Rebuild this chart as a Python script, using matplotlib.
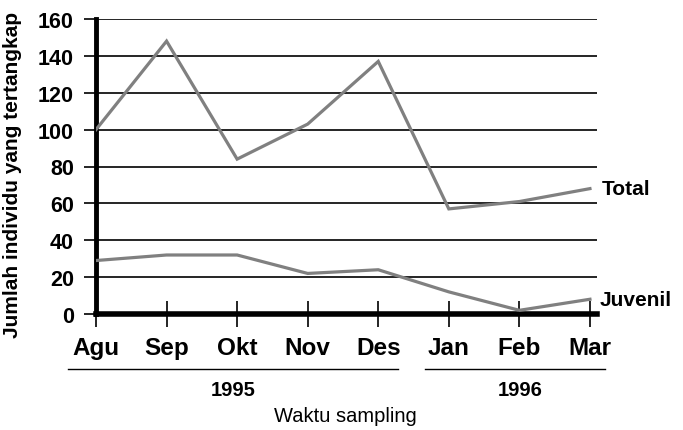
import matplotlib
matplotlib.use("Agg")
import matplotlib.pyplot as plt

months = ["Agu", "Sep", "Okt", "Nov", "Des", "Jan", "Feb", "Mar"]
total = [100, 148, 84, 103, 137, 57, 61, 68]
juvenil = [29, 32, 32, 22, 24, 12, 2, 8]
yticks = [0, 20, 40, 60, 80, 100, 120, 140, 160]
years = ["1995", "1996"]

plt.rcParams['font.family'] = ['Liberation Sans', 'DejaVu Sans']

fig = plt.figure(figsize=(6.83, 4.31), dpi=100)
ax = fig.add_axes([96/683, 1-315/431, 501/683, 295/431])

x = list(range(len(months)))
ax.plot(x, total, color='#808080', lw=2.3, solid_joinstyle='miter', zorder=3)
ax.plot(x, juvenil, color='#808080', lw=2.3, solid_joinstyle='miter', zorder=3)

ax.set_xlim(0, 7.1)
ax.set_ylim(0, 160)
ax.set_yticks(yticks)
ax.set_yticklabels([str(v) for v in yticks], fontsize=15.5, fontweight='bold')
ax.set_xticks(x)
ax.set_xticklabels(months, fontsize=17.5, fontweight='bold')
for yv in yticks[1:]:
    ax.axhline(yv, color='black', lw=1.2, zorder=1)

for s in ['top', 'right']:
    ax.spines[s].set_visible(False)
ax.spines['left'].set_linewidth(3.5)
ax.spines['bottom'].set_linewidth(4)
ax.tick_params(axis='y', direction='out', length=9, width=1.2, pad=7)
ax.tick_params(axis='x', direction='inout', length=19, width=1.2, pad=6)

ax.set_ylabel("Jumlah individu yang tertangkap", fontsize=15, fontweight='bold', labelpad=4)
ax.yaxis.set_label_coords(-74/501, (315-175)/295)

ax.text(7.17, total[-1], "Total", fontsize=15, fontweight='bold', va='center', ha='left')
ax.text(7.14, juvenil[-1], "Juvenil", fontsize=15, fontweight='bold', va='center', ha='left')

# year brackets
fig.add_artist(plt.Line2D([68/683, 398/683], [1-370/431]*2, color='black', lw=1))
fig.add_artist(plt.Line2D([425/683, 605/683], [1-370/431]*2, color='black', lw=1))
fig.text(233/683, 1-391/431, years[0], fontsize=14.5, fontweight='bold', ha='center', va='center')
fig.text(520/683, 1-391/431, years[1], fontsize=14.5, fontweight='bold', ha='center', va='center')
fig.text(345/683, 1-417/431, "Waktu sampling", fontsize=14.5, ha='center', va='center')

fig.savefig("out.png", dpi=100)
